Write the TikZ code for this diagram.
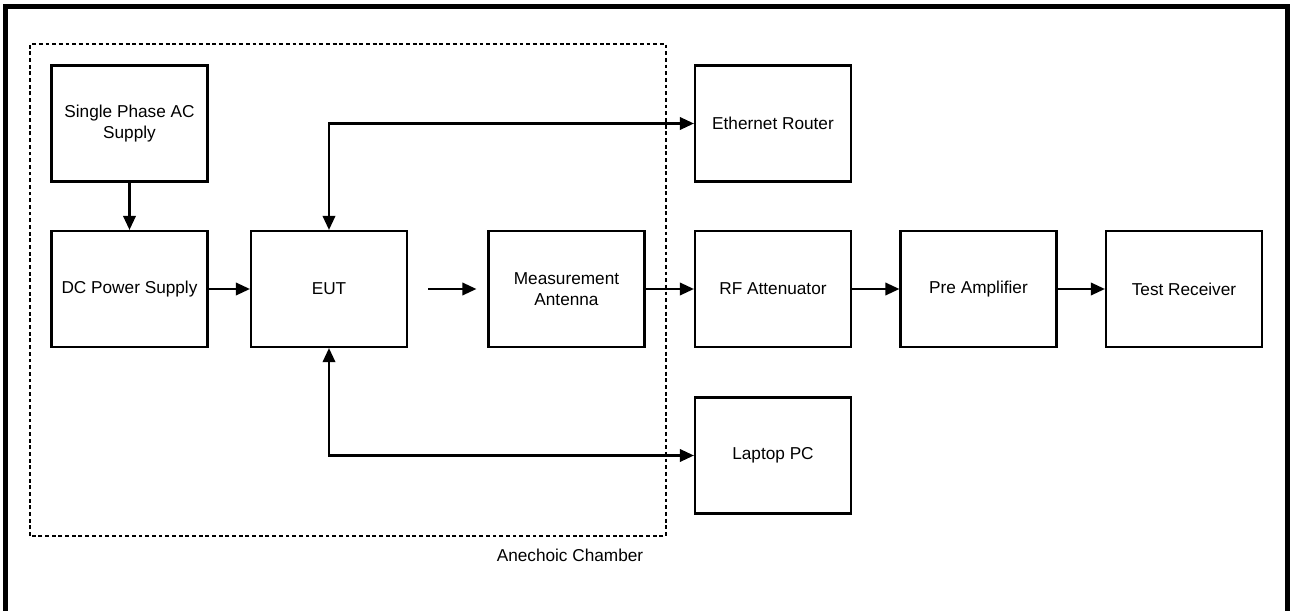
\documentclass[tikz,border=0pt]{standalone}
\usepackage{fontspec}
\setmainfont{Liberation Sans}
\usetikzlibrary{arrows.meta,positioning}

\begin{document}
\begin{tikzpicture}[
		blk/.style={draw,line width=1.25pt,minimum width=3.12cm,minimum height=2.32cm,align=center,inner sep=1pt,font=\fontsize{9.8}{12}\selectfont},
		conn/.style={line width=1.15pt,-{Triangle[length=0.28cm,width=0.25cm]}},
		bconn/.style={line width=1.15pt,{Triangle[length=0.28cm,width=0.25cm]}-{Triangle[length=0.28cm,width=0.25cm]}},
		chamber/.style={line width=1.4pt,dash pattern=on 2.2pt off 1.6pt}
	]
		\useasboundingbox (0,0) rectangle (25.8,12.2);
		% outer frame
		\draw[line width=2.6pt] (0.11,-0.3) -- (0.11,12.07) -- (25.75,12.07) -- (25.75,-0.3);
		% anechoic chamber
		\draw[chamber] (0.6,1.48) rectangle (13.32,11.32);
		\node[font=\fontsize{9.8}{12}\selectfont] (chlabel) at (11.4,1.1) {Anechoic Chamber};
		% blocks
		\node[blk] (acsup) at (2.59,9.73) {Single Phase AC\\Supply};
		\node[blk] (dcps) at (2.59,6.42) {DC Power Supply};
		\node[blk] (eut) at (6.58,6.42) {EUT};
		\node[blk] (ant) at (11.33,6.42) {Measurement\\Antenna};
		\node[blk] (ethr) at (15.46,9.73) {Ethernet Router};
		\node[blk] (rfatt) at (15.46,6.42) {RF Attenuator};
		\node[blk] (laptop) at (15.46,3.09) {Laptop PC};
		\node[blk] (preamp) at (19.57,6.42) {Pre Amplifier};
		\node[blk] (testrx) at (23.68,6.42) {Test Receiver};
		\coordinate[right=0.4cm of eut.east] (rad1);
		\coordinate[left=0.22cm of ant.west] (rad2);
		% connections
		\draw[conn] (acsup) -- (dcps);
		\draw[conn] (dcps) -- (eut);
		\draw[conn] (rad1) -- (rad2);
		\draw[conn] (ant) -- (rfatt);
		\draw[conn] (rfatt) -- (preamp);
		\draw[conn] (preamp) -- (testrx);
		\draw[bconn] (eut.north) |- (ethr.west);
		\draw[bconn] (eut.south) |- (laptop.west);
	\end{tikzpicture}
\end{document}
